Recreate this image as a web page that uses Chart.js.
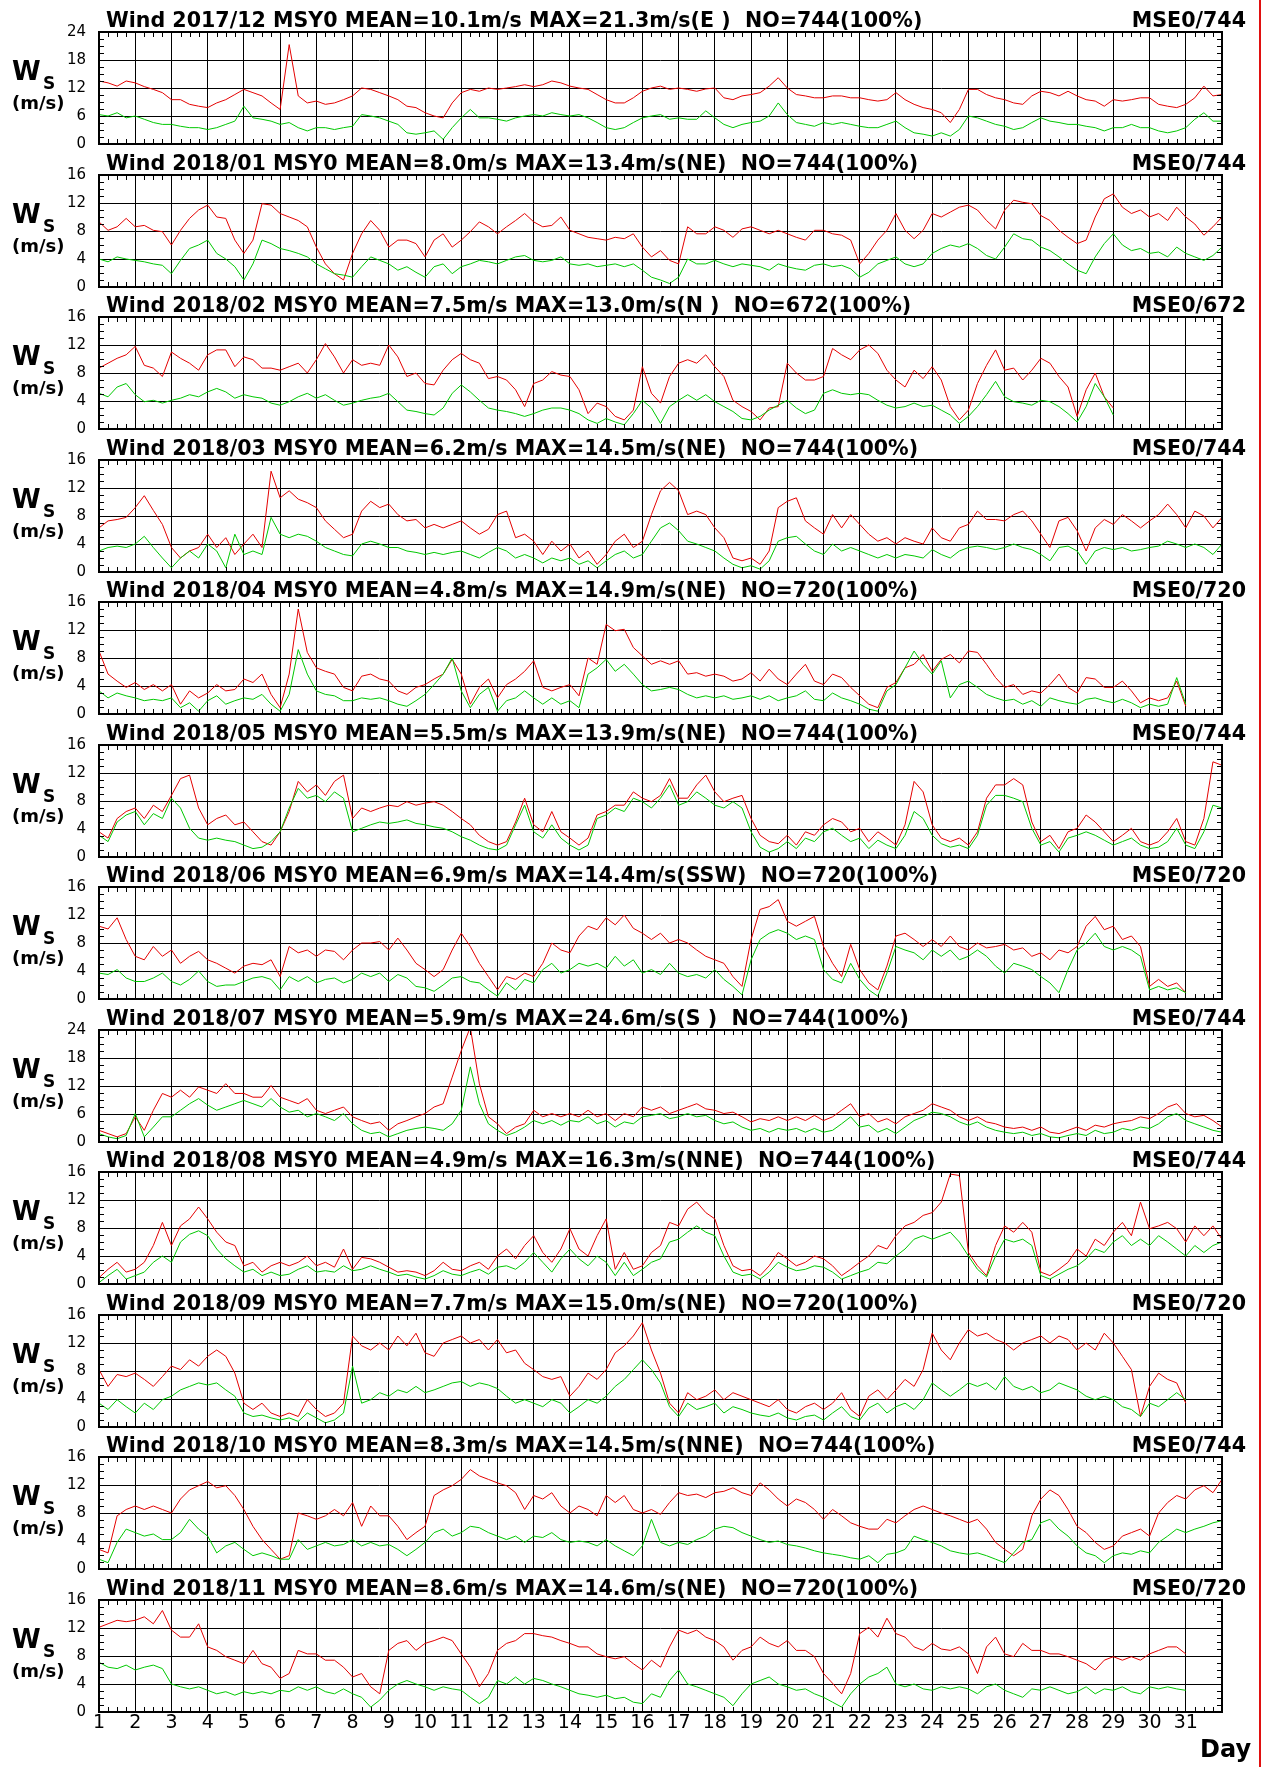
<!DOCTYPE html>
<html><head><meta charset="utf-8">
<script src="https://cdn.jsdelivr.net/npm/chart.js@4.4.1/dist/chart.umd.min.js"></script>
<style>
html,body{margin:0;padding:0;background:#fff;}
body{width:1263px;height:1767px;position:relative;overflow:hidden;}
canvas.pc{position:absolute;left:0;}
#redline{position:absolute;left:1259px;top:0;width:2px;height:1767px;background:#e01010;}
</style></head><body>
<div id="redline"></div>
<script>
// 6-hourly readings (day 1 00h, 06h, 12h, 18h, ...), red = wind speed, green = second trace
const dec2017Red = [13.5,13.1,12.4,13.5, 13.1,12.3,11.7,11.0, 9.5,9.5,8.5,8.1, 7.8,8.8,9.5,10.6,
11.7,11.0,10.3,8.8, 7.4,21.3,10.3,8.8, 9.2,8.5,8.8,9.5, 10.3,12.0,11.7,11.0,
10.3,9.5,8.1,7.8, 6.7,6.0,5.6,8.8, 11.0,11.7,11.3,12.0, 11.7,12.0,12.3,12.7,
12.3,12.7,13.5,13.1, 12.4,12.0,11.7,10.6, 9.5,8.8,8.8,9.9, 11.3,12.0,12.4,11.7,
12.0,11.7,11.3,11.8, 12.0,9.9,9.5,10.3, 10.6,11.0,12.4,14.2, 12.0,10.6,10.3,9.9,
9.9,10.3,10.3,9.9, 9.9,9.5,9.2,9.5, 11.0,9.5,8.5,7.8, 7.4,6.7,4.6,7.4,
11.7,11.7,10.6,9.9, 9.5,8.8,8.5,10.3, 11.3,11.0,10.3,11.3, 10.3,9.5,9.2,8.1,
9.5,9.2,9.5,9.9, 9.9,8.5,8.1,7.8, 8.5,9.9,12.4,10.3, 10.6];
const dec2017Green = [6.3,6.0,6.7,5.6, 6.0,5.3,4.6,4.2, 4.2,3.8,3.5,3.5, 3.1,3.5,4.2,4.9,
8.1,5.6,5.3,4.9, 4.2,4.6,3.5,2.8, 3.5,3.5,3.1,3.5, 3.8,6.3,6.0,5.6,
4.9,4.2,2.4,2.1, 2.4,2.8,1.0,3.5, 5.6,7.4,5.6,5.6, 5.3,4.9,5.6,6.0,
6.3,6.0,6.7,6.3, 6.0,6.3,5.6,4.6, 3.5,3.1,3.5,4.6, 5.6,6.0,6.3,5.3,
5.6,5.3,5.3,7.1, 5.6,4.2,3.5,4.2, 4.6,4.9,6.0,8.8, 6.3,4.6,4.2,3.8,
4.6,4.2,4.6,4.2, 3.8,3.5,3.5,4.2, 4.9,3.5,2.4,2.1, 1.7,2.4,1.7,3.1,
6.0,5.6,4.9,4.2, 3.8,3.1,3.5,4.6, 5.6,4.9,4.6,4.2, 4.2,3.8,3.5,2.8,
3.5,3.5,4.2,3.5, 3.5,2.8,2.4,2.8, 3.5,5.3,6.7,4.9, 4.9];
const jan2018Red = [9.3,8.1,8.6,9.8, 8.6,8.8,8.1,7.9, 6.0,8.1,9.8,11.0, 11.7,10.0,9.8,6.7,
4.8,6.7,11.9,11.7, 10.5,10.0,9.5,8.6, 5.7,3.3,1.9,1.0, 4.8,7.6,9.5,8.1,
5.7,6.7,6.7,6.2, 4.3,6.7,7.6,5.7, 6.7,7.9,9.3,8.6, 7.6,8.6,9.5,10.5,
9.3,8.6,8.8,10.0, 8.1,7.6,7.1,6.9, 6.7,7.1,6.9,7.6, 5.7,4.3,5.2,3.8,
3.3,8.6,7.6,7.6, 8.6,8.1,7.1,8.3, 8.6,8.1,7.6,8.1, 7.6,7.1,6.7,8.1,
8.1,7.6,7.4,6.7, 3.3,4.8,6.7,8.1, 10.5,8.1,6.9,8.1, 10.5,10.0,10.7,11.4,
11.7,11.0,9.5,8.3, 11.0,12.4,12.1,11.9, 10.2,9.5,8.1,7.1, 6.2,6.7,10.0,12.6,
13.3,11.4,10.5,11.0, 10.0,10.5,9.5,11.4, 10.0,9.0,7.4,8.6, 10.0];
const jan2018Green = [4.0,3.6,4.3,4.0, 3.8,3.6,3.3,3.1, 1.9,3.8,5.5,6.0, 6.7,4.8,4.0,2.9,
1.0,3.3,6.7,6.2, 5.5,5.2,4.8,4.3, 3.3,2.6,1.9,1.7, 1.4,2.9,4.3,3.8,
3.3,2.4,2.9,2.1, 1.4,2.9,3.3,1.9, 2.9,3.3,3.8,3.6, 3.3,3.8,4.3,4.5,
3.8,3.6,3.8,4.3, 3.3,3.1,3.3,2.9, 3.1,3.3,2.9,3.3, 2.4,1.4,1.0,0.5,
1.4,4.0,3.3,3.3, 3.8,3.3,2.9,3.3, 3.1,2.9,2.4,3.3, 2.9,2.6,2.4,3.1,
3.3,2.9,3.1,2.6, 1.4,2.1,3.3,3.8, 4.3,3.3,2.9,3.3, 4.8,5.5,6.0,5.7,
6.2,5.5,4.5,4.0, 5.7,7.6,6.9,6.7, 5.7,5.2,4.3,3.3, 2.4,1.9,4.3,6.2,
7.6,6.0,5.2,5.5, 4.8,5.0,4.3,5.7, 4.8,4.3,3.8,4.5, 5.7];
const feb2018Red = [8.7,9.4,10.1,10.6, 11.8,9.1,8.7,7.5, 11.0,10.1,9.4,8.4, 10.6,11.3,11.3,8.9,
10.3,9.9,8.7,8.7, 8.4,8.9,9.4,8.0, 9.9,12.2,10.3,8.0, 9.9,9.1,9.4,9.1,
12.0,10.3,7.5,8.0, 6.5,6.3,8.4,9.9, 10.8,9.9,9.4,7.2, 7.5,7.0,5.6,3.2,
6.5,7.0,8.2,7.7, 7.5,5.6,2.2,3.7, 3.2,1.8,1.3,2.7, 8.9,5.1,3.7,7.5,
9.4,9.9,9.4,10.6, 8.9,7.5,4.1,3.2, 2.5,1.3,3.0,3.2, 9.4,8.0,7.0,7.0,
7.5,11.5,10.6,9.9, 11.3,12.0,10.8,8.4, 7.0,6.0,8.4,7.2, 8.9,7.0,3.2,1.3,
2.7,6.5,9.1,11.3, 8.4,8.7,7.0,8.4, 10.1,9.4,7.5,6.0, 1.8,5.6,8.0,4.6, 3.0];
const feb2018Green = [5.1,4.6,6.0,6.5, 4.9,3.9,4.1,3.7, 4.1,4.4,4.9,4.6, 5.3,5.8,5.3,4.4,
4.9,4.6,4.4,3.7, 3.4,3.9,4.6,5.1, 4.4,4.9,4.1,3.4, 3.7,4.1,4.4,4.6,
5.1,3.9,2.7,2.5, 2.2,2.0,3.0,5.1, 6.3,5.3,4.1,3.0, 2.7,2.5,2.2,1.8,
2.2,2.7,3.0,3.0, 2.7,2.2,1.3,0.8, 1.5,1.0,0.6,2.2, 4.1,3.0,0.8,3.2,
4.1,4.9,4.1,4.9, 3.9,3.2,2.5,1.5, 1.3,1.8,2.7,3.4, 4.1,3.0,2.2,2.7,
5.1,5.6,5.1,4.9, 5.1,4.9,4.1,3.4, 3.0,3.2,3.7,3.2, 3.4,2.7,2.0,0.8,
1.8,3.2,4.9,6.8, 4.6,3.9,3.7,3.4, 4.1,3.9,3.2,2.2, 1.0,3.2,6.5,4.6, 2.0];
const mar2018Red = [6.3,7.3,7.5,7.8, 9.2,10.9,8.8,6.8, 3.5,2.0,3.0,3.5, 5.4,3.5,4.9,2.5,
4.0,5.4,3.5,14.4, 10.6,11.6,10.4,9.9, 9.2,7.3,6.1,4.9, 5.4,8.7,10.1,9.2,
9.7,8.2,7.3,7.5, 6.3,6.8,6.3,6.8, 7.3,6.3,5.4,6.1, 8.2,8.7,4.9,5.4,
4.4,2.5,4.4,3.0, 4.0,2.0,3.0,1.1, 2.5,4.4,5.4,3.5, 4.4,8.2,11.6,12.8,
11.6,8.2,8.7,8.2, 6.3,4.9,2.0,1.6, 2.0,1.1,3.0,9.2, 10.1,10.6,7.3,6.3,
5.4,8.2,6.3,8.2, 6.8,5.4,4.4,4.9, 4.0,4.9,4.4,4.0, 6.3,4.9,4.4,6.3,
6.8,8.7,7.5,7.5, 7.3,8.2,8.7,7.3, 5.4,3.5,7.3,7.8, 5.9,3.0,6.3,7.5,
6.8,8.2,7.3,6.3, 7.3,8.2,9.7,8.2, 6.3,8.7,8.0,6.3, 7.8];
const mar2018Green = [3.0,3.5,3.7,3.5, 4.0,5.1,3.5,2.0, 0.6,2.0,3.0,2.0, 4.0,3.0,0.6,5.4,
2.5,3.0,2.5,7.8, 5.4,4.9,5.4,5.1, 4.4,3.5,3.0,2.5, 2.3,4.0,4.4,4.0,
3.5,3.5,3.0,2.8, 2.5,2.8,2.5,2.8, 3.0,2.5,2.0,2.8, 3.5,3.0,2.0,2.5,
2.0,1.3,2.0,1.6, 2.0,1.1,1.6,0.6, 1.6,2.5,3.0,2.0, 2.5,4.4,6.3,7.0,
5.9,4.4,4.0,3.5, 3.0,2.0,1.1,0.6, 0.9,0.4,1.6,4.4, 4.9,5.1,4.0,3.0,
2.5,4.0,3.0,3.5, 3.0,2.5,2.0,2.5, 2.0,2.5,2.3,2.0, 3.2,2.5,2.0,3.0,
3.5,3.7,3.5,3.2, 3.5,4.0,3.5,3.2, 2.5,1.6,3.5,3.7, 3.0,1.1,3.0,3.5,
3.2,3.5,3.0,3.2, 3.5,3.7,4.4,4.0, 3.5,4.0,3.5,2.5, 4.0];
const apr2018Red = [9.0,5.7,4.7,3.8, 4.5,3.5,4.2,3.3, 4.2,1.4,3.3,2.3, 3.0,4.2,3.3,3.5,
5.0,4.5,5.7,2.8, 0.9,5.7,15.0,8.8, 6.6,6.1,5.7,3.8, 3.3,5.4,5.7,5.0,
4.7,3.3,2.8,3.8, 4.2,5.0,5.7,7.8, 5.7,1.4,3.8,5.0, 2.3,4.2,5.0,6.1,
7.6,3.8,3.3,3.8, 4.2,2.6,8.0,7.1, 12.8,11.9,12.1,9.5, 8.3,7.1,7.6,7.1,
7.6,5.7,5.9,5.4, 5.7,5.4,4.7,5.0, 5.9,4.7,6.4,5.0, 4.2,5.7,7.1,4.7,
4.2,5.7,5.2,3.8, 2.6,1.4,0.9,3.8, 4.5,6.6,7.1,8.5, 6.1,7.8,8.5,7.3,
9.0,8.8,7.1,5.2, 3.8,4.2,2.8,3.3, 3.0,4.2,5.7,3.8, 3.0,5.2,5.0,3.8,
3.8,4.7,3.3,1.6, 2.3,1.9,2.3,4.7, 1.1];
const apr2018Green = [3.3,2.3,3.0,2.6, 2.3,1.9,2.1,1.9, 2.3,0.9,1.6,0.4, 1.9,2.6,1.4,1.9,
2.3,2.1,2.8,1.4, 0.4,2.8,9.2,5.7, 3.3,2.8,2.6,1.9, 1.9,2.3,2.1,2.3,
1.9,1.4,1.1,1.9, 2.8,4.2,5.7,8.0, 3.3,0.9,2.8,3.8, 0.4,1.9,2.3,3.3,
2.3,1.4,2.3,1.4, 1.9,0.9,5.7,6.6, 7.8,6.1,7.1,5.7, 4.2,3.3,3.5,3.8,
3.5,2.8,2.3,2.6, 2.3,2.6,2.1,2.3, 2.6,2.1,2.6,1.9, 2.3,2.6,3.3,2.1,
1.9,3.0,2.3,1.9, 1.4,0.7,0.4,3.3, 4.2,6.6,9.0,7.1, 5.7,7.6,2.3,4.2,
4.7,3.8,2.8,2.3, 1.9,2.1,1.4,1.9, 1.1,2.3,1.9,1.6, 1.4,2.1,2.3,1.9,
1.6,2.1,1.6,0.9, 1.4,1.1,1.4,5.2, 1.4];
const may2018Red = [3.6,2.7,5.5,6.5, 7.0,5.5,7.4,6.5, 8.8,11.2,11.7,7.0, 4.6,5.5,6.0,4.6,
5.0,3.6,2.2,1.7, 3.6,6.5,10.8,9.3, 10.3,8.8,10.8,11.7, 5.5,7.0,6.5,7.0,
7.4,7.2,7.9,7.4, 7.7,7.9,7.4,6.5, 5.5,4.6,3.1,2.2, 1.7,2.2,5.0,8.4,
4.6,3.6,6.5,3.6, 2.7,1.7,2.7,6.0, 6.5,7.4,7.4,9.3, 8.4,7.9,8.8,11.2,
8.4,8.4,10.3,11.7, 9.3,7.9,8.4,8.8, 5.5,3.1,2.2,1.9, 3.1,1.7,3.6,3.1,
4.6,5.5,5.0,3.6, 4.1,2.2,3.6,2.7, 1.7,4.6,10.8,9.3, 4.6,2.7,2.2,2.7,
1.7,3.6,8.4,10.3, 10.3,11.2,10.3,5.0, 2.2,3.1,1.2,3.6, 4.1,6.0,5.0,3.6,
2.2,3.1,4.1,2.2, 1.7,2.2,3.6,5.5, 2.2,1.7,5.5,13.6, 13.1];
const may2018Green = [3.1,2.2,5.0,6.0, 6.5,4.6,6.2,5.5, 8.4,7.0,4.1,2.7, 2.4,2.7,2.4,2.2,
1.7,1.2,1.4,2.2, 3.6,7.0,9.8,8.4, 8.8,7.9,9.3,8.4, 3.6,4.1,4.6,5.0,
4.8,5.0,5.3,4.8, 4.6,4.3,4.1,3.6, 2.9,2.4,1.7,1.2, 1.0,1.7,4.6,7.4,
3.6,2.7,4.6,2.7, 1.7,1.0,1.7,5.5, 6.0,7.0,6.5,8.4, 7.9,7.0,8.4,10.3,
7.4,7.9,9.3,8.4, 7.4,7.0,7.9,7.0, 3.6,1.4,0.7,1.2, 2.2,1.2,2.7,2.2,
3.6,4.1,3.1,2.2, 2.7,1.2,2.4,1.7, 1.2,3.1,6.5,5.5, 3.1,1.9,1.4,1.7,
1.2,3.1,7.4,8.8, 8.8,8.4,7.9,4.1, 1.7,2.2,0.7,2.7, 3.1,3.6,3.1,2.4,
1.7,2.2,2.7,1.7, 1.2,1.4,2.2,4.1, 1.7,1.2,3.6,7.4, 7.0];
const jun2018Red = [10.4,10.0,11.6,8.5, 6.1,5.6,7.5,6.1, 7.0,5.1,6.1,6.8, 5.6,5.1,4.4,3.7,
4.7,5.1,4.9,5.6, 3.2,7.5,6.6,7.0, 6.1,7.0,6.8,5.6, 7.0,8.0,8.0,8.2,
7.0,8.7,7.0,5.1, 4.2,3.2,4.2,7.0, 9.4,7.5,5.1,3.2, 1.3,3.2,2.8,3.7,
3.2,5.1,8.0,7.0, 6.6,9.0,10.4,9.9, 11.6,10.6,12.0,10.1, 9.4,8.5,9.4,8.0,
8.5,8.0,7.0,6.1, 5.6,5.1,3.2,1.8, 8.5,12.8,13.2,14.2, 11.1,10.4,11.1,11.8,
7.5,5.1,3.2,7.8, 4.2,2.3,1.3,4.7, 9.0,9.4,8.5,7.5, 8.5,7.5,9.0,7.5,
7.0,8.0,7.3,7.5, 7.8,7.0,7.3,6.1, 6.6,5.6,7.0,6.6, 7.5,10.4,11.8,9.9,
10.4,8.5,9.0,7.5, 1.8,2.8,1.8,2.3, 0.9];
const jun2018Green = [3.7,3.5,4.2,3.0, 2.5,2.5,3.0,3.7, 2.5,2.0,2.8,4.0, 2.5,1.8,2.0,2.0,
2.5,3.0,3.2,2.8, 1.3,3.2,2.5,3.2, 2.3,2.8,3.0,2.3, 2.8,3.7,3.2,3.7,
2.5,3.5,3.0,1.8, 1.6,1.1,2.0,3.0, 3.2,2.5,2.3,1.3, 0.4,2.3,1.3,2.8,
2.3,4.2,5.1,3.7, 4.2,5.1,4.7,5.1, 4.4,6.1,4.7,5.6, 3.7,4.2,3.5,5.1,
3.7,3.2,3.5,3.0, 4.2,2.8,1.8,0.6, 5.6,8.5,9.4,9.9, 9.4,8.5,9.0,8.5,
4.2,2.8,2.3,5.1, 2.8,1.3,0.4,3.7, 7.5,7.0,6.6,5.6, 7.0,6.1,7.0,5.6,
6.1,7.0,6.1,4.7, 3.7,5.1,4.7,4.2, 3.2,2.3,0.9,4.2, 7.0,8.0,9.4,7.5,
7.0,7.5,7.0,6.1, 1.3,1.8,1.3,1.6, 0.9];
const jul2018Red = [2.5,1.8,1.1,1.8, 5.4,2.5,6.8,10.4, 9.6,11.1,9.6,11.8, 11.1,10.4,12.5,10.4,
10.4,9.6,9.6,12.1, 9.6,8.9,8.2,9.3, 6.8,6.1,6.8,7.5, 5.4,4.6,3.9,4.3,
2.5,3.9,4.6,5.4, 6.1,7.5,8.2,13.9, 19.6,24.6,12.5,5.4, 3.9,1.8,3.2,3.9,
6.8,5.4,6.1,5.4, 6.1,5.4,6.8,5.4, 6.1,4.6,6.1,5.4, 7.5,6.8,7.5,6.1,
6.8,7.5,8.2,7.1, 6.8,6.1,6.4,5.4, 4.3,5.0,4.6,5.4, 4.6,5.4,4.6,5.7,
4.6,5.4,6.8,8.2, 5.4,6.1,4.3,5.0, 3.9,5.4,6.1,6.8, 8.2,7.5,6.8,5.4,
4.6,5.4,4.3,3.9, 3.2,2.9,3.2,2.5, 3.2,2.1,1.8,2.5, 3.2,2.5,3.6,3.2,
3.9,4.3,4.6,5.4, 5.0,6.1,7.5,8.2, 6.1,5.4,5.7,4.6, 3.2];
const jul2018Green = [1.8,1.1,0.7,1.4, 6.1,1.1,3.2,5.4, 5.4,6.8,8.2,9.3, 7.9,6.8,7.5,8.2,
8.9,8.2,7.5,9.3, 7.5,6.4,6.8,5.4, 6.1,5.4,4.6,6.1, 3.9,2.5,1.8,2.1,
1.1,1.8,2.5,2.9, 3.2,2.9,2.5,3.9, 6.8,16.1,8.2,3.9, 2.5,1.4,2.1,3.2,
4.6,3.9,4.6,3.6, 4.6,4.3,5.4,3.9, 4.6,3.2,4.3,3.9, 5.4,5.7,6.1,5.0,
5.4,6.1,5.4,5.7, 4.6,3.9,4.3,3.2, 2.5,2.9,2.1,2.9, 2.5,2.9,2.1,2.9,
2.1,2.5,3.9,5.4, 3.2,3.6,2.1,2.9, 1.8,3.2,4.6,5.4, 6.4,6.1,5.4,4.3,
3.6,4.3,3.2,2.5, 2.1,1.8,2.1,1.4, 1.8,1.1,0.9,1.4, 1.8,1.4,2.5,1.8,
2.1,2.9,2.5,3.2, 2.9,3.9,5.4,6.1, 4.6,3.9,3.2,2.5, 2.1];
const aug2018Red = [0.9,2.1,3.1,1.7, 2.1,3.1,5.5,8.8, 5.5,8.3,9.3,11.0, 9.3,7.4,6.0,5.5,
2.6,3.1,1.7,2.6, 3.1,2.6,3.1,4.0, 2.6,3.1,2.4,5.0, 2.1,3.8,3.6,3.1,
2.4,1.7,1.9,1.7, 1.2,1.9,3.1,2.1, 1.9,2.6,3.1,2.1, 4.0,5.0,3.6,5.5,
6.9,4.5,3.1,5.0, 7.9,5.0,4.0,6.9, 9.3,2.1,4.5,2.1, 2.6,4.5,5.5,8.8,
8.3,10.7,11.7,10.2, 9.3,5.5,2.6,1.9, 2.1,1.2,2.6,4.5, 3.6,2.6,3.1,4.0,
3.6,2.6,1.2,2.1, 3.1,4.0,5.5,5.0, 6.9,8.3,8.8,9.8, 10.2,11.7,15.7,15.5,
4.5,2.6,1.2,5.5, 8.3,7.4,8.8,7.4, 1.7,1.2,2.1,3.1, 5.0,4.0,6.4,5.5,
7.4,8.8,6.9,11.7, 7.9,8.3,8.8,7.9, 6.0,8.3,6.9,8.3, 6.4];
const aug2018Green = [0.2,1.2,2.1,0.7, 1.2,1.7,3.1,4.0, 3.1,6.0,7.1,7.6, 6.9,5.0,3.6,2.6,
1.7,2.1,1.2,1.7, 1.2,1.4,2.1,2.6, 1.7,1.9,1.7,2.6, 1.9,2.1,2.6,2.1,
1.7,1.2,1.4,1.0, 0.7,1.2,1.9,1.4, 1.2,1.7,2.1,1.4, 2.4,2.6,2.1,3.1,
4.5,3.1,1.7,3.6, 5.0,3.6,2.6,4.0, 3.1,1.2,3.1,1.2, 2.1,3.1,3.6,6.0,
6.4,7.4,8.3,7.4, 6.9,4.0,1.7,1.2, 1.4,0.7,1.7,3.1, 2.4,1.9,2.1,2.6,
2.4,1.7,0.7,1.2, 1.7,2.1,3.1,2.9, 4.0,5.0,6.4,6.9, 6.4,6.9,7.4,6.0,
4.0,2.1,1.0,4.0, 6.4,6.0,6.4,5.5, 1.2,0.7,1.4,2.1, 2.6,3.6,5.0,4.5,
6.0,6.9,5.5,6.4, 5.5,6.9,6.0,5.0, 4.0,5.5,4.5,5.5, 6.0];
const sep2018Red = [8.2,5.8,7.5,7.2, 7.7,6.8,5.8,7.2, 8.7,8.2,9.6,8.7, 10.1,11.0,10.1,7.7,
3.4,2.5,3.4,2.0, 1.5,2.0,1.5,3.9, 2.5,1.5,2.0,3.4, 13.0,11.6,11.0,12.0,
11.0,13.0,11.6,13.4, 10.6,10.1,12.0,12.5, 13.0,12.0,12.5,11.0, 12.5,10.6,11.0,9.1,
8.2,7.2,6.8,7.2, 4.4,5.8,7.7,6.8, 8.2,10.6,11.6,13.0, 14.9,11.0,7.7,3.4,
2.0,4.9,3.9,4.4, 5.3,3.9,4.9,4.4, 3.9,3.4,2.9,3.9, 2.5,2.0,2.9,3.4,
2.5,3.4,4.9,2.5, 1.5,4.4,5.3,3.9, 5.3,6.8,5.8,8.2, 13.4,11.0,9.6,12.0,
13.9,13.0,13.4,12.5, 12.0,11.0,12.0,12.5, 13.0,12.0,13.0,12.5, 11.0,12.0,11.0,13.4,
12.0,10.1,8.2,1.5, 5.8,7.7,6.8,6.3, 3.4];
const sep2018Green = [3.4,2.5,3.9,2.9, 2.0,3.4,2.5,3.9, 4.4,5.3,5.8,6.3, 6.0,6.3,5.3,4.4,
2.0,1.5,1.7,1.3, 1.0,1.3,0.8,2.0, 1.3,0.6,1.0,2.0, 8.7,3.4,3.9,4.9,
4.4,5.3,4.9,5.8, 4.9,5.3,5.8,6.3, 6.5,5.8,6.3,6.0, 5.5,4.4,3.4,3.9,
3.4,2.9,3.9,3.4, 2.0,2.9,3.9,3.4, 4.4,5.8,6.8,8.2, 9.6,8.2,6.3,2.9,
1.5,3.4,2.5,2.9, 3.4,2.0,2.9,2.5, 2.0,1.7,1.5,2.0, 1.3,1.0,1.5,1.7,
1.0,2.0,2.9,1.5, 1.0,2.7,3.4,2.0, 2.9,3.4,2.5,3.9, 6.3,5.3,4.4,5.3,
6.3,5.8,6.3,5.3, 7.2,5.8,5.3,5.8, 4.9,5.3,6.3,5.8, 5.3,4.4,3.9,4.4,
3.9,2.9,2.5,1.5, 3.4,2.9,3.9,4.9, 3.9];
const oct2018Red = [2.8,2.3,7.6,8.5, 9.0,8.5,9.0,8.5, 8.0,10.0,11.3,11.9, 12.5,11.6,11.9,10.5,
8.5,6.1,4.2,2.8, 1.4,1.9,8.0,7.6, 7.1,7.6,8.5,7.6, 9.5,6.1,9.0,7.6,
7.6,6.1,4.2,5.2, 6.1,10.5,11.3,11.9, 12.8,14.2,13.3,12.8, 12.3,11.9,10.9,8.5,
10.5,10.0,10.9,9.0, 8.0,9.0,8.5,7.6, 10.5,9.5,10.5,8.5, 8.0,8.5,7.8,9.5,
10.9,10.5,10.7,10.2, 10.9,11.1,11.6,10.9, 10.5,12.3,11.3,10.0, 9.0,10.0,9.5,8.5,
7.1,8.5,7.6,6.6, 6.1,5.7,5.7,7.1, 6.6,7.6,8.5,9.0, 8.5,8.0,7.6,7.1,
6.6,7.1,5.7,3.8, 2.8,1.9,2.8,7.6, 10.0,11.3,10.5,8.5, 6.1,5.2,3.8,2.8,
3.3,4.7,5.2,5.7, 4.7,8.0,9.5,10.5, 10.0,11.3,11.9,10.9, 12.8];
const oct2018Green = [1.4,0.9,3.8,5.7, 5.2,4.7,5.0,4.2, 4.2,5.2,7.1,5.7, 4.7,2.3,3.3,3.8,
2.8,1.9,2.3,1.9, 1.4,1.4,4.2,2.8, 3.3,3.8,3.3,3.5, 4.2,3.3,3.8,3.3,
3.5,2.8,1.9,2.8, 3.8,5.2,5.7,4.7, 5.2,6.1,5.9,5.2, 4.7,4.2,4.7,3.8,
4.7,4.5,5.2,4.2, 3.8,4.0,3.8,3.3, 4.2,3.3,2.6,1.9, 3.3,7.1,3.8,3.3,
3.8,3.5,4.2,4.7, 5.7,6.1,5.9,5.2, 4.7,4.2,3.8,4.0, 3.5,3.3,3.0,2.6,
2.3,2.1,1.9,1.6, 1.4,1.9,0.9,2.1, 2.3,2.8,4.7,4.2, 3.8,3.3,2.6,2.3,
2.1,2.3,1.9,1.4, 0.9,2.3,3.8,4.2, 6.6,7.1,5.7,4.7, 3.3,2.3,1.9,0.9,
1.9,2.3,2.1,2.6, 2.3,3.8,4.7,5.7, 5.2,5.7,6.1,6.6, 6.9];
const nov2018Red = [12.1,12.6,13.1,12.9, 13.1,13.6,12.6,14.5, 11.7,10.7,10.7,12.6, 9.3,8.8,7.9,7.4,
6.9,8.8,6.9,6.4, 4.8,5.5,8.8,8.3, 8.3,7.4,7.4,6.4, 5.0,5.5,3.6,2.6,
8.8,9.8,10.2,8.8, 9.8,10.2,10.7,10.2, 8.3,6.4,3.6,5.5, 8.8,9.8,10.2,11.2,
11.2,10.9,10.7,10.2, 9.8,9.3,9.3,8.3, 7.9,7.6,7.9,6.9, 6.0,7.4,6.4,9.3,
11.7,11.2,11.7,10.7, 10.2,9.3,7.4,8.8, 9.3,10.7,9.8,9.3, 10.2,8.8,8.8,7.9,
5.5,4.1,2.6,5.5, 11.2,12.1,10.7,13.4, 11.2,10.7,9.3,8.8, 9.8,9.0,8.8,9.3,
8.3,5.5,9.3,10.7, 8.3,7.9,9.8,8.8, 8.8,8.3,8.3,7.9, 7.4,6.9,6.0,7.4,
7.9,7.4,7.9,7.4, 8.3,8.8,9.3,9.3, 8.3];
const nov2018Green = [7.1,6.4,6.2,6.7, 6.0,6.4,6.7,6.2, 4.0,3.6,3.3,3.6, 3.1,2.6,2.9,2.4,
2.9,2.6,2.9,2.6, 3.1,2.9,3.6,3.1, 3.6,2.9,2.6,3.3, 2.6,2.1,0.7,1.7,
3.1,4.0,4.5,4.0, 3.6,3.1,3.6,3.3, 3.1,2.1,1.2,2.1, 4.5,4.0,5.0,4.0,
4.8,4.5,4.0,3.6, 3.1,2.6,2.4,2.1, 2.4,1.9,2.1,1.4, 1.2,2.6,2.1,4.5,
6.0,4.0,3.6,3.1, 2.6,2.1,0.9,2.6, 4.0,4.5,5.0,4.0, 3.6,3.1,3.3,2.6,
2.1,1.4,0.7,2.6, 4.0,5.0,5.5,6.4, 4.0,3.6,4.0,3.3, 3.1,3.6,3.3,3.6,
3.3,2.6,3.6,4.0, 3.1,2.6,2.1,3.3, 3.1,3.6,3.1,2.6, 2.9,3.6,2.6,3.3,
3.1,3.6,2.9,2.6, 3.6,3.3,3.6,3.3, 3.1];

const titles = [
 'Wind 2017/12 MSY0 MEAN=10.1m/s MAX=21.3m/s(E )  NO=744(100%)',
 'Wind 2018/01 MSY0 MEAN=8.0m/s MAX=13.4m/s(NE)  NO=744(100%)',
 'Wind 2018/02 MSY0 MEAN=7.5m/s MAX=13.0m/s(N )  NO=672(100%)',
 'Wind 2018/03 MSY0 MEAN=6.2m/s MAX=14.5m/s(NE)  NO=744(100%)',
 'Wind 2018/04 MSY0 MEAN=4.8m/s MAX=14.9m/s(NE)  NO=720(100%)',
 'Wind 2018/05 MSY0 MEAN=5.5m/s MAX=13.9m/s(NE)  NO=744(100%)',
 'Wind 2018/06 MSY0 MEAN=6.9m/s MAX=14.4m/s(SSW)  NO=720(100%)',
 'Wind 2018/07 MSY0 MEAN=5.9m/s MAX=24.6m/s(S )  NO=744(100%)',
 'Wind 2018/08 MSY0 MEAN=4.9m/s MAX=16.3m/s(NNE)  NO=744(100%)',
 'Wind 2018/09 MSY0 MEAN=7.7m/s MAX=15.0m/s(NE)  NO=720(100%)',
 'Wind 2018/10 MSY0 MEAN=8.3m/s MAX=14.5m/s(NNE)  NO=744(100%)',
 'Wind 2018/11 MSY0 MEAN=8.6m/s MAX=14.6m/s(NE)  NO=720(100%)'
];
const mseLabels = ['MSE0/744','MSE0/744','MSE0/672','MSE0/744','MSE0/720','MSE0/744',
 'MSE0/720','MSE0/744','MSE0/744','MSE0/720','MSE0/744','MSE0/720'];
const yMax = [24,16,16,16,16,16,16,24,16,16,16,16];
const redSeries = [dec2017Red,jan2018Red,feb2018Red,mar2018Red,apr2018Red,may2018Red,
 jun2018Red,jul2018Red,aug2018Red,sep2018Red,oct2018Red,nov2018Red];
const greenSeries = [dec2017Green,jan2018Green,feb2018Green,mar2018Green,apr2018Green,may2018Green,
 jun2018Green,jul2018Green,aug2018Green,sep2018Green,oct2018Green,nov2018Green];
const dayLabels = Array.from({length:31},(_,i)=>String(i+1));

const FONT = '"DejaVu Sans", "Liberation Sans", sans-serif';
const PLOT_H = 112, FIRST_TOP = 32.3, STEP = 142.5, PAD_TOP = 32;

const decor = {
  id: 'decor',
  afterDraw(chart) {
    const p = chart.options.plugins.decor;
    const {ctx, chartArea: a, scales: {x, y}} = chart;
    ctx.save();
    ctx.strokeStyle = '#000';
    ctx.lineWidth = 1;
    ctx.beginPath();
    for (let i = 1; i < 124; i++) {
      if (i % 4 === 0) continue;
      const px = Math.round(x.getPixelForValue(1 + i / 4)) + 0.5;
      ctx.moveTo(px, a.top); ctx.lineTo(px, a.top + 5);
      ctx.moveTo(px, a.bottom); ctx.lineTo(px, a.bottom - 5);
    }
    const st = p.ymax / 16;
    for (let i = 1; i < 16; i++) {
      if (i % 4 === 0) continue;
      const py = Math.round(y.getPixelForValue(i * st)) + 0.5;
      ctx.moveTo(a.left, py); ctx.lineTo(a.left + 5, py);
      ctx.moveTo(a.right, py); ctx.lineTo(a.right - 5, py);
    }
    ctx.stroke();
    ctx.lineWidth = 2;
    ctx.strokeRect(a.left, a.top, a.right - a.left, a.bottom - a.top);
    ctx.fillStyle = '#000';
    ctx.textBaseline = 'alphabetic';
    ctx.font = 'bold 20.6px ' + FONT;
    ctx.textAlign = 'left';
    ctx.fillText(p.title, 106, a.top - 5);
    ctx.textAlign = 'right';
    ctx.fillText(p.mse, 1246, a.top - 5);
    ctx.textAlign = 'left';
    ctx.font = 'bold 26px ' + FONT;
    ctx.fillText('W', 12, a.top + 48);
    ctx.font = 'bold 17px ' + FONT;
    ctx.fillText('S', 43, a.top + 57);
    ctx.font = 'bold 18px ' + FONT;
    ctx.fillText('(m/s)', 12, a.top + 77);
    if (p.last) {
      ctx.font = 'bold 24px ' + FONT;
      ctx.fillText('Day', 1200, a.top + 157);
    }
    ctx.restore();
  }
};

for (let k = 0; k < 12; k++) {
  const last = k === 11;
  const plotTop = Math.round(FIRST_TOP + STEP * k);
  const cTop = plotTop - PAD_TOP;
  let cH = last ? (1767 - cTop) : (PAD_TOP + PLOT_H + 10);
  let axisH = cH - PAD_TOP - PLOT_H;
  const cv = document.createElement('canvas');
  cv.className = 'pc';
  cv.width = 1263; cv.height = cH;
  cv.style.top = cTop + 'px';
  cv.style.width = '1263px'; cv.style.height = cH + 'px';
  document.body.appendChild(cv);
  const toXY = arr => arr.map((v, i) => ({x: 1 + i / 4, y: v}));
  const chart = new Chart(cv, {
    type: 'line',
    data: {
      datasets: [
        {data: toXY(greenSeries[k]), borderColor: 'rgb(0,200,0)', borderWidth: 1, pointRadius: 0, tension: 0},
        {data: toXY(redSeries[k]), borderColor: 'rgb(228,0,0)', borderWidth: 1, pointRadius: 0, tension: 0}
      ]
    },
    options: {
      responsive: false, maintainAspectRatio: false, animation: false, devicePixelRatio: 1,
      layout: {padding: {top: PAD_TOP, right: 41, left: 0, bottom: 0}},
      plugins: {legend: {display: false}, tooltip: {enabled: false},
        decor: {title: titles[k], mse: mseLabels[k], ymax: yMax[k], last: last}},
      scales: {
        x: {
          type: 'linear', min: 1, max: 32,
          afterFit: s => { s.height = axisH; },
          grid: {color: '#000', lineWidth: 1, drawTicks: false},
          border: {display: false},
          ticks: {display: last, stepSize: 1, autoSkip: false, maxRotation: 0, padding: 0,
            color: '#000', font: {family: FONT, size: 19},
            callback: v => (v >= 1 && v <= 31) ? dayLabels[v - 1] : ''}
        },
        y: {
          min: 0, max: yMax[k],
          afterFit: s => { s.width = 99; },
          grid: {color: '#000', lineWidth: 1, drawTicks: false},
          border: {display: false},
          ticks: {stepSize: yMax[k] / 4, padding: 13, color: '#000', font: {family: FONT, size: 15}}
        }
      }
    },
    plugins: [decor]
  });
  // make the plot area exactly PLOT_H tall
  for (let it = 0; it < 4; it++) {
    const a = chart.chartArea;
    const d = (PAD_TOP + PLOT_H) - a.bottom;
    if (Math.abs(d) < 0.5) break;
    if (last) {
      axisH = Math.max(0, axisH - d);
      chart.update();
    } else {
      cH = Math.round(cH + d);
      chart.resize(1263, cH);
    }
  }
}
</script>
</body></html>
